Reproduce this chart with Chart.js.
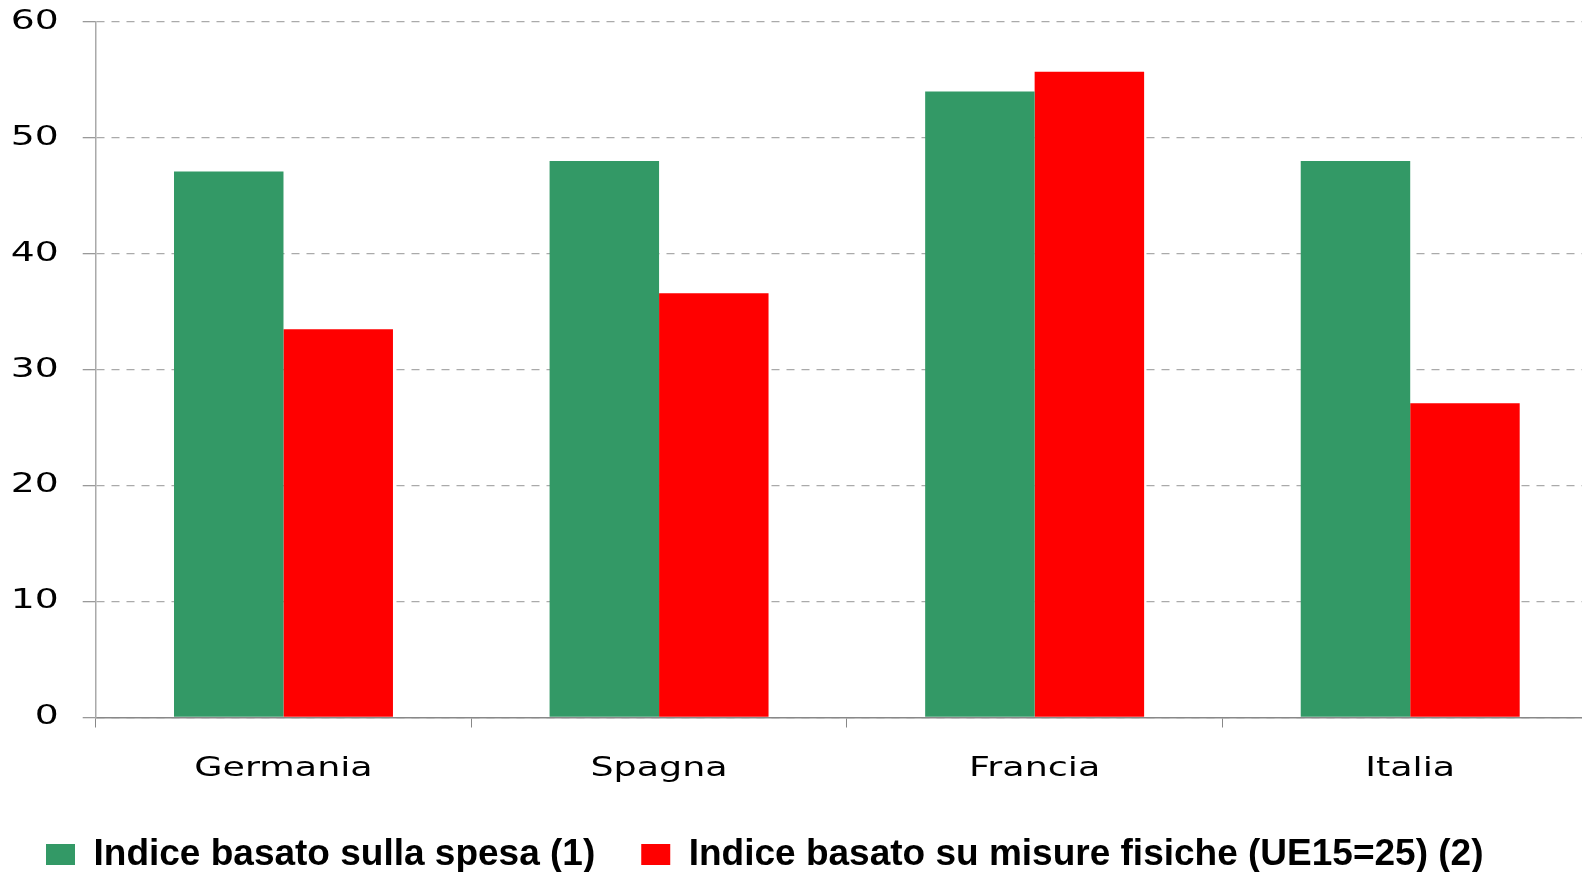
<!DOCTYPE html>
<html>
<head>
<meta charset="utf-8">
<script src="https://cdn.jsdelivr.net/npm/chart.js@4/dist/chart.umd.min.js"></script>
<style>
  html, body { margin: 0; padding: 0; background: #fff; overflow: hidden; }
  #wrap { width: 1582px; height: 872px; overflow: hidden; }
</style>
</head>
<body>
<div id="wrap"><canvas id="indexChart" width="1598" height="883"></canvas></div>
<script>
const categories = ["Germania", "Spagna", "Francia", "Italia"];
const spesa = [47.1, 48.0, 54.0, 48.0];
const fisiche = [33.5, 36.6, 55.7, 27.1];
const yTicks = [0, 10, 20, 30, 40, 50, 60];

// the original axis labels are drawn horizontally stretched
function stretchLabels(scale, sx) {
    if (scale._stretched) return;
    const orig = scale.drawLabels;
    scale.drawLabels = function (area) {
        const ctx = this.ctx;
        const fill = ctx.fillText;
        ctx.fillText = function (t, x, y) {
            this.save();
            this.scale(sx, 1);
            fill.call(this, t, x / sx, y);
            this.restore();
        };
        orig.call(this, area);
        ctx.fillText = fill;
    };
    scale._stretched = true;
}

const wideTicks = {
    id: 'wideTicks',
    beforeDraw(chart) {
        stretchLabels(chart.scales.x, 1.35);
        stretchLabels(chart.scales.y, 1.45);
    }
};

const ctx = document.getElementById('indexChart').getContext('2d');

new Chart(ctx, {
    type: 'bar',
    data: {
        labels: categories,
        datasets: [
            {
                label: "Indice basato sulla spesa (1)",
                data: spesa,
                backgroundColor: "#339966",
                borderWidth: 0
            },
            {
                label: "Indice basato su misure fisiche (UE15=25) (2)",
                data: fisiche,
                backgroundColor: "#ff0000",
                borderWidth: 0
            }
        ]
    },
    plugins: [wideTicks],
    options: {
        responsive: false,
        animation: false,
        events: [],
        layout: { padding: { top: 22, left: 0, right: 0, bottom: 0 } },
        categoryPercentage: 0.583,
        barPercentage: 1,
        plugins: {
            tooltip: { enabled: false },
            legend: {
                position: 'bottom',
                align: 'start',
                labels: {
                    boxWidth: 29,
                    boxHeight: 21,
                    padding: 46,
                    color: '#000',
                    font: { family: "'Liberation Sans', Arial, sans-serif", size: 37, weight: 'bold' }
                }
            }
        },
        scales: {
            x: {
                afterFit(scale) { scale.height = 72.5; },
                grid: {
                    offset: true,
                    drawOnChartArea: false,
                    drawTicks: true,
                    tickLength: 10,
                    color: '#888'
                },
                border: { color: '#888', width: 1.5 },
                ticks: {
                    padding: 25,
                    color: '#000',
                    font: { family: "'DejaVu Sans', sans-serif", size: 27 }
                }
            },
            y: {
                min: 0,
                max: 60,
                afterFit(scale) {
                    scale.width = 95.7;
                    scale.paddingTop = 0;
                    scale.paddingBottom = 0;
                },
                afterBuildTicks(scale) { scale.ticks = yTicks.map(v => ({ value: v })); },
                grid: {
                    color: '#aaa',
                    lineWidth: 1.3,
                    tickLength: 13,
                    tickColor: '#999',
                    tickWidth: 1.3
                },
                border: { color: '#aaa', width: 1.5, dash: [8, 7] },
                ticks: {
                    padding: 24,
                    color: '#000',
                    font: { family: "'DejaVu Sans', sans-serif", size: 26 }
                }
            }
        }
    }
});
</script>
</body>
</html>
